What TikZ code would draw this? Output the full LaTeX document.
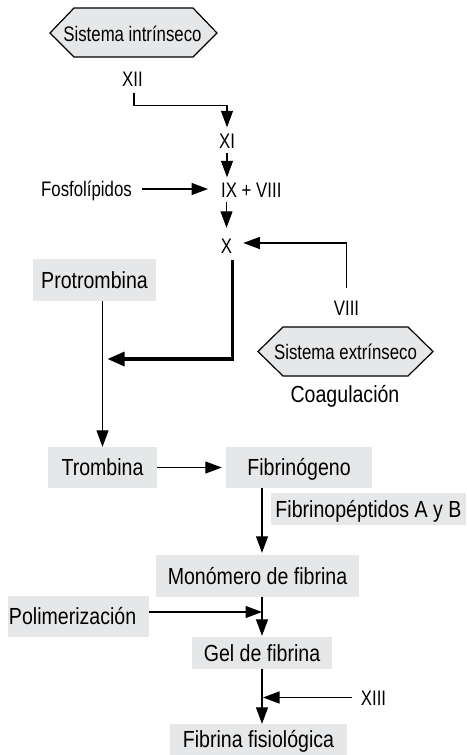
\documentclass[tikz,border=0pt]{standalone}
\usepackage{fontspec}
\newfontfamily\smallf{Liberation Sans}[FakeStretch=0.8]
\newfontfamily\largef{Liberation Sans}[FakeStretch=0.84]
\usetikzlibrary{arrows.meta}
\definecolor{boxgray}{RGB}{230,231,232}
\tikzset{
  small/.style={font=\smallf\fontsize{21}{25}\selectfont, inner sep=0pt, text height=15pt, text depth=0pt},
  large/.style={font=\largef\fontsize{23.3}{28}\selectfont, inner sep=0pt, text height=16.7pt, text depth=0pt},
  gbox/.style n args={2}{large, fill=boxgray, minimum width=#1, minimum height=#2},
  arr/.style={line width=1.2pt, -{Triangle[length=16.5pt,width=12pt]}},
  thickarr/.style={line width=3.2pt, -{Triangle[length=17pt,width=14pt]}},
  hexa/.style={draw=black, line width=1.2pt, fill=boxgray, line join=miter}
}
\begin{document}
\begin{tikzpicture}[x=1pt,y=-1pt]
\useasboundingbox (0,0) rectangle (466,755);

% hexagons
\draw[hexa] (50,33) -- (74,8) -- (193,8) -- (217,33) -- (193,57) -- (74,57) -- cycle;
\node[small] (sint) at (132.5,34) {Sistema intrínseco};
\draw[hexa] (258,351.5) -- (283,327) -- (408,327) -- (433,351.5) -- (408,376) -- (283,376) -- cycle;
\node[small] (sext) at (345.5,352) {Sistema extrínseco};

% labels
\node[small] (xii) at (132.5,79) {XII};
\node[small] (xi) at (227,140.5) {XI};
\node[small, anchor=west] (ix) at (221,189.5) {IX + VIII};
\node[small] (fos) at (86.5,189) {Fosfolípidos};
\node[small] (x) at (226.5,245.5) {X};
\node[small] (viii) at (346.5,307.5) {VIII};
\node[large] (coag) at (345,394) {Coagulación};
\node[small] (xiii) at (373.5,697.5) {XIII};

% boxes
\node[gbox={123pt}{42pt}] (prot) at (94.5,280) {Protrombina};
\node[gbox={109pt}{41pt}] (trom) at (102.5,467.5) {Trombina};
\node[gbox={146pt}{41pt}] (fibg) at (299,467.5) {Fibrinógeno};
\node[gbox={195pt}{32pt}] (fpep) at (368.5,509) {Fibrinopéptidos A y B};
\node[gbox={203pt}{42pt}] (mono) at (257.5,576) {Monómero de fibrina};
\node[gbox={141pt}{41pt}, text width=139pt, inner xsep=1pt, align=left] (poli) at (78.5,616.5) {Polimerización};
\node[gbox={140pt}{32pt}] (gel) at (262,653) {Gel de fibrina};
\node[gbox={177pt}{31pt}] (ffis) at (258.5,739.5) {Fibrina fisiológica};

% helper coordinates
\coordinate (k1) at (227,105.5);
\coordinate (k0) at (346.5,243);
\coordinate (k2) at (232.3,359);
\coordinate (k3) at (262,612);

% connectors
\draw[arr, shorten <=6.5pt, shorten >=5.5pt] ([xshift=1.5pt]xii.south) |- (k1) -- (xi.north);
\draw[arr, shorten <=5pt, shorten >=4.5pt] (xi.south) -- (xi.south |- ix.north);
\draw[arr, shorten <=5pt, shorten >=10pt] (x.north |- ix.south) -- (x.north);
\draw[arr, shorten <=10pt, shorten >=13pt] (fos.east) -- (fos.east -| ix.west);
\draw[arr, shorten <=12pt, shorten >=11pt] (viii.north) -- (k0) -- (k0 -| x.east);
\draw[thickarr, shorten <=7pt, shorten >=5pt] (x.south -| k2) -- (k2) -- (k2 -| trom.north);
\draw[arr] (prot.south -| trom.north) -- (trom.north);
\draw[arr, shorten >=4pt] (trom.east) -- (trom.east -| fibg.west);
\draw[arr, shorten >=2pt] (fibg.south -| gel.north) -- (mono.north -| gel.north);
\draw[arr, shorten >=1pt] (mono.south -| gel.north) -- (gel.north);
\draw[arr] (poli.east |- k3) -- (k3);
\draw[arr] (gel.south) -- (ffis.north -| gel.south);
\draw[arr, shorten <=9pt, shorten >=1pt] (xiii.west) -- (xiii.west -| gel.south);
\end{tikzpicture}
\end{document}
